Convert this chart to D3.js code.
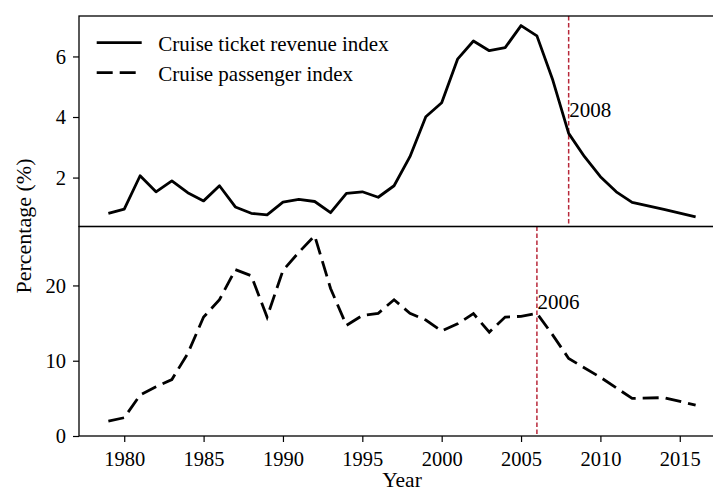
<!DOCTYPE html>
<html>
<head>
<meta charset="utf-8">
<script src="https://cdn.jsdelivr.net/npm/d3@7"></script>
<style>
  html, body { margin: 0; padding: 0; background: #fff; }
  svg { display: block; }
  text { font-family: "Liberation Serif", "Times New Roman", serif; fill: #000; }
</style>
</head>
<body>
<svg id="chart" width="713" height="496"></svg>
<script>
// ---- data ----
const revenueYears = [1979,1980,1981,1982,1983,1984,1985,1986,1987,1988,1989,1990,1991,1992,1993,1994,1995,1996,1997,1998,1999,2000,2001,2002,2003,2004,2005,2006,2007,2008,2009,2010,2011,2012,2014,2016];
const revenueValues = [0.82,0.96,2.06,1.53,1.89,1.50,1.23,1.73,1.03,0.82,0.77,1.19,1.28,1.21,0.84,1.48,1.53,1.35,1.73,2.69,4.01,4.47,5.91,6.51,6.19,6.29,7.02,6.68,5.22,3.46,2.69,2.03,1.53,1.18,0.95,0.70];
const passengerYears = [1979,1980,1981,1982,1983,1984,1985,1986,1987,1988,1989,1990,1991,1992,1993,1994,1995,1996,1997,1998,1999,2000,2001,2002,2003,2004,2005,2006,2007,2008,2010,2012,2014,2016];
const passengerValues = [1.99,2.43,5.43,6.53,7.5,10.95,15.8,18.1,22.1,21.3,15.8,22.0,24.4,26.6,19.6,14.7,16.0,16.3,18.1,16.3,15.4,13.95,14.9,16.25,13.8,15.8,15.9,16.3,13.4,10.3,7.8,4.99,5.1,4.1];
const xTicks = [1980,1985,1990,1995,2000,2005,2010,2015];
const topTicks = [2,4,6];
const bottomTicks = [0,10,20];
const seriesNames = ["Cruise ticket revenue index", "Cruise passenger index"];
const markers = [{year: 2008, label: "2008", value: 4.0, panel: "top"},
                 {year: 2006, label: "2006", value: 16.9, panel: "bottom"}];

// ---- layout ----
const svg = d3.select("#chart");
const left = 79, right = 725;
const topY0 = 16, midY = 226.5, botY1 = 436;
const fontSize = 20.5;

const allYears = revenueYears.concat(passengerYears);
const [xmin, xmax] = d3.extent(allYears);
const xpad = (xmax - xmin) * 0.05;
const x = d3.scaleLinear().domain([xmin - xpad, xmax + xpad]).range([left, right]);

const [rmin, rmax] = d3.extent(revenueValues);
const rpad = (rmax - rmin) * 0.05;
const yTop = d3.scaleLinear().domain([rmin - rpad, rmax + rpad]).range([midY, topY0]);

const [pmin, pmax] = d3.extent(passengerValues);
const ppad = (pmax - pmin) * 0.05;
const yBot = d3.scaleLinear().domain([0, pmax + ppad]).range([botY1, midY]);

// clip paths
const defs = svg.append("defs");
defs.append("clipPath").attr("id", "clipTop").append("rect")
  .attr("x", left).attr("y", topY0).attr("width", right - left).attr("height", midY - topY0);
defs.append("clipPath").attr("id", "clipBot").append("rect")
  .attr("x", left).attr("y", midY).attr("width", right - left).attr("height", botY1 - midY);

// ---- marker lines ----
markers.forEach(m => {
  const ys = m.panel === "top" ? yTop : yBot;
  const [ya, yb] = m.panel === "top" ? [topY0, midY] : [midY, botY1];
  svg.append("line")
    .attr("x1", x(m.year)).attr("x2", x(m.year))
    .attr("y1", ya).attr("y2", yb)
    .attr("stroke", "#b8283a").attr("stroke-width", 1.5)
    .attr("stroke-dasharray", "4.5,2.5");
  svg.append("text")
    .attr("x", x(m.year) + 0.5).attr("y", ys(m.value))
    .attr("font-size", fontSize + 0.5)
    .text(m.label);
});

// ---- series ----
const lineTop = d3.line().x((d, i) => x(revenueYears[i])).y(d => yTop(d));
svg.append("path").datum(revenueValues)
  .attr("clip-path", "url(#clipTop)")
  .attr("d", lineTop)
  .attr("fill", "none").attr("stroke", "#000").attr("stroke-width", 2.8)
  .attr("stroke-linejoin", "round");

const lineBot = d3.line().x((d, i) => x(passengerYears[i])).y(d => yBot(d));
svg.append("path").datum(passengerValues)
  .attr("clip-path", "url(#clipBot)")
  .attr("d", lineBot)
  .attr("fill", "none").attr("stroke", "#000").attr("stroke-width", 2.8)
  .attr("stroke-dasharray", "16,7");

// ---- axes ----
function styleAxis(g) {
  g.selectAll("path.domain").remove();
  g.selectAll(".tick line").attr("stroke", "#000").attr("stroke-width", 1.2);
  g.selectAll(".tick text").attr("font-size", fontSize)
    .attr("font-family", '"Liberation Serif", "Times New Roman", serif').attr("fill", "#000");
}
svg.append("g").attr("transform", `translate(${left},0)`)
  .call(d3.axisLeft(yTop).tickValues(topTicks).tickSize(6).tickPadding(7).tickFormat(d3.format("d")))
  .call(styleAxis);
svg.append("g").attr("transform", `translate(${left},0)`)
  .call(d3.axisLeft(yBot).tickValues(bottomTicks).tickSize(6).tickPadding(7).tickFormat(d3.format("d")))
  .call(styleAxis);
svg.append("g").attr("transform", `translate(0,${botY1})`)
  .call(d3.axisBottom(x).tickValues(xTicks).tickSize(6).tickPadding(9).tickFormat(d3.format("d")))
  .call(styleAxis);

// frames
const frame = svg.append("g").attr("fill", "none").attr("stroke", "#000").attr("stroke-width", 1.3);
frame.append("rect").attr("x", left).attr("y", topY0).attr("width", right - left).attr("height", midY - topY0);
frame.append("rect").attr("x", left).attr("y", midY).attr("width", right - left).attr("height", botY1 - midY);

// ---- legend ----
const legend = svg.append("g");
const legendRows = [{name: seriesNames[0], dash: null, y: 42.7},
                    {name: seriesNames[1], dash: "16,7", y: 72.7}];
legendRows.forEach(r => {
  legend.append("line").attr("x1", 96.7).attr("x2", 141.7).attr("y1", r.y).attr("y2", r.y)
    .attr("stroke", "#000").attr("stroke-width", 2.8)
    .attr("stroke-dasharray", r.dash);
  legend.append("text").attr("x", 158.3).attr("y", r.y + 8)
    .attr("font-size", fontSize + 0.5).text(r.name);
});

// ---- axis labels ----
svg.append("text").attr("x", (left + right) / 2).attr("y", 486.5)
  .attr("text-anchor", "middle").attr("font-size", fontSize + 1).text("Year");
svg.append("text")
  .attr("transform", `translate(31,${(topY0 + botY1) / 2}) rotate(-90)`)
  .attr("text-anchor", "middle").attr("font-size", fontSize + 1.5).text("Percentage (%)");
</script>
</body>
</html>
